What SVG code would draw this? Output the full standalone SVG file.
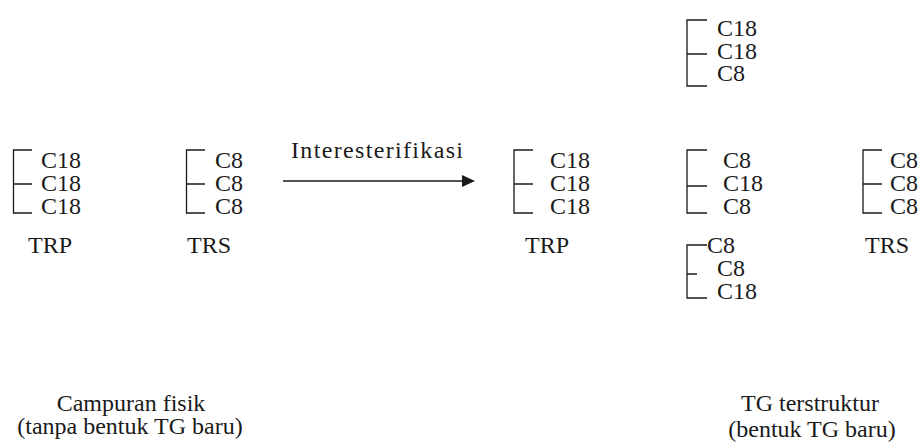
<svg xmlns="http://www.w3.org/2000/svg" width="924" height="445" viewBox="0 0 924 445">
<style>
text{font-family:'Liberation Serif',Tinos,'Times New Roman','Noto Serif','DejaVu Serif',serif;font-size:24px;fill:#1a1a1a}
.b{fill:none;stroke:#1a1a1a;stroke-width:1.3}
.m{text-anchor:middle}
</style>
<rect width="924" height="445" fill="#fff"/>
<g id="trp-left">
<path class="b" d="M32 150H13.5V213H32M13.5 184H32"/>
<text x="41" y="168">C18</text><text x="41" y="191">C18</text><text x="41" y="214">C18</text>
<text x="28" y="253">TRP</text>
</g>
<g id="trs-left">
<path class="b" d="M205 150H186.5V213H205M186.5 184H205"/>
<text x="215" y="168">C8</text><text x="215" y="191">C8</text><text x="215" y="214">C8</text>
<text x="187" y="253">TRS</text>
</g>
<g id="connectors">
<line x1="283" y1="181" x2="464" y2="181" stroke="#1a1a1a" stroke-width="1.5"/>
<polygon points="462,175 475,181 462,187" fill="#1a1a1a"/>
<text x="291" y="158" textLength="172" lengthAdjust="spacing">Interesterifikasi</text>
</g>
<g id="trp-right">
<path class="b" d="M533 150H514V213H533M514 184H533"/>
<text x="550" y="168">C18</text><text x="550" y="191">C18</text><text x="550" y="214">C18</text>
<text x="525" y="253">TRP</text>
</g>
<g id="tg-top">
<path class="b" d="M707 20H687V86H707M687 54H707"/>
<text x="717" y="36">C18</text><text x="717" y="59">C18</text><text x="717" y="81">C8</text>
</g>
<g id="tg-mid">
<path class="b" d="M707 150H687V213H707M687 186H707"/>
<text x="723" y="168">C8</text><text x="723" y="191">C18</text><text x="723" y="214">C8</text>
</g>
<g id="tg-low">
<path class="b" d="M707 245H687V298H707M687 274H697"/>
<text x="707" y="253">C8</text><text x="717" y="276">C8</text><text x="717" y="299">C18</text>
</g>
<g id="trs-right">
<path class="b" d="M882 150H863V213H882M863 184H882"/>
<text x="890" y="168">C8</text><text x="890" y="191">C8</text><text x="890" y="214">C8</text>
<text x="865" y="253">TRS</text>
</g>
<g id="label-left">
<text class="m" x="131" y="411">Campuran fisik</text>
<text class="m" x="130" y="434">(tanpa bentuk TG baru)</text>
</g>
<g id="label-right">
<text class="m" x="810" y="411">TG terstruktur</text>
<text class="m" x="812" y="437">(bentuk TG baru)</text>
</g>
</svg>
